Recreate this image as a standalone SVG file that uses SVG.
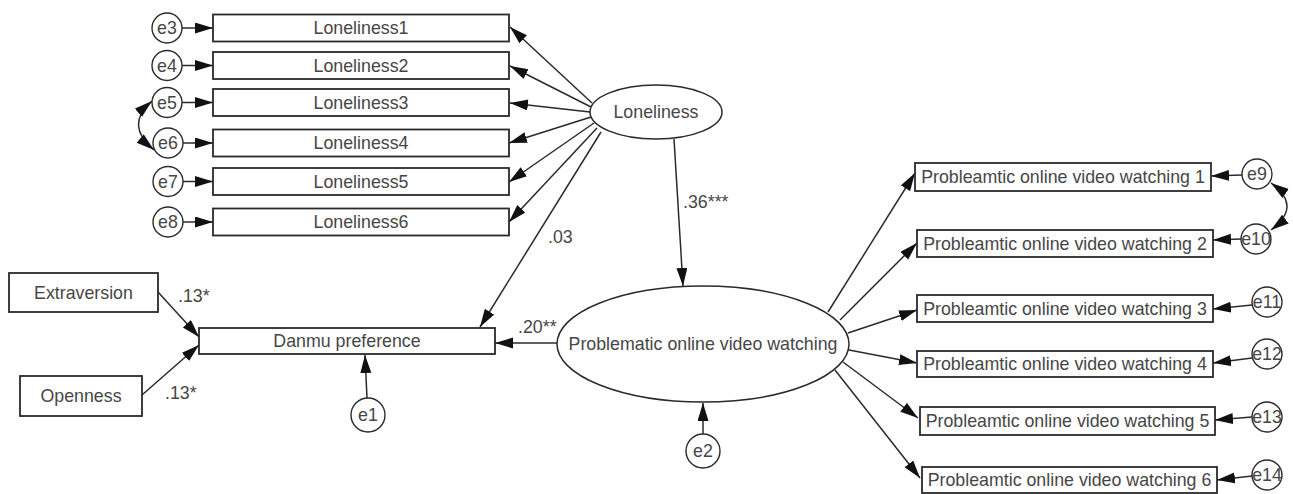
<svg xmlns="http://www.w3.org/2000/svg" width="1293" height="494" viewBox="0 0 1293 494">
<style>
  text { font-family: "Liberation Sans", Arial, sans-serif; font-size: 17.8px; fill: #464646; }
  .c { text-anchor: middle; }
  .box { fill: #ffffff; stroke: #2a2a2a; stroke-width: 1.8; }
  .lat { fill: #ffffff; stroke: #2a2a2a; stroke-width: 1.5; }
  .err { fill: #ffffff; stroke: #2a2a2a; stroke-width: 1.4; }
  .ln { fill: none; stroke: #2a2a2a; stroke-width: 1.5; marker-end: url(#ah); }
  .cov { fill: none; stroke: #2a2a2a; stroke-width: 1.5; marker-start: url(#ah); marker-end: url(#ah); }
</style>
<defs>
  <marker id="ah" markerUnits="userSpaceOnUse" markerWidth="20" markerHeight="12" refX="18" refY="5.5" orient="auto-start-reverse">
    <path d="M0,0 L18,5.5 L0,11 Z" fill="#111"/>
  </marker>
</defs>
<rect width="1293" height="494" fill="#ffffff"/>

<g id="connectors">
  <line class="ln" x1="182" y1="28" x2="213" y2="28"/>
  <line class="ln" x1="182" y1="65.5" x2="213" y2="65.5"/>
  <line class="ln" x1="182" y1="102.5" x2="213" y2="102.5"/>
  <line class="ln" x1="183" y1="143" x2="213" y2="143"/>
  <line class="ln" x1="183" y1="181.5" x2="213" y2="181.5"/>
  <line class="ln" x1="183" y1="222" x2="213" y2="222"/>
  <path class="cov" d="M152,101 Q124,125 154,150"/>
  <line class="ln" x1="592" y1="103" x2="510" y2="27"/>
  <line class="ln" x1="591" y1="107" x2="510" y2="66"/>
  <line class="ln" x1="590" y1="112" x2="510" y2="103"/>
  <line class="ln" x1="591" y1="117" x2="509" y2="143"/>
  <line class="ln" x1="594" y1="123" x2="509" y2="182"/>
  <line class="ln" x1="597" y1="128" x2="509" y2="222"/>
  <line class="ln" x1="601" y1="132" x2="480" y2="327"/>
  <line class="ln" x1="674" y1="139" x2="683" y2="286"/>
  <line class="ln" x1="557" y1="343" x2="495" y2="343"/>
  <line class="ln" x1="158" y1="292" x2="199" y2="337"/>
  <line class="ln" x1="142" y1="395" x2="199" y2="345"/>
  <line class="ln" x1="367" y1="398" x2="365" y2="355"/>
  <line class="ln" x1="703" y1="434" x2="703" y2="403"/>
  <line class="ln" x1="828" y1="312" x2="915" y2="173"/>
  <line class="ln" x1="840" y1="320" x2="917" y2="243"/>
  <line class="ln" x1="848" y1="333" x2="917" y2="310"/>
  <line class="ln" x1="849" y1="350" x2="917" y2="363"/>
  <line class="ln" x1="843" y1="362" x2="918" y2="418"/>
  <line class="ln" x1="835" y1="370" x2="920" y2="478"/>
  <line class="ln" x1="1242" y1="175" x2="1211" y2="176"/>
  <line class="ln" x1="1241" y1="239" x2="1213" y2="240"/>
  <line class="ln" x1="1252" y1="305" x2="1213" y2="309"/>
  <line class="ln" x1="1252" y1="358" x2="1213" y2="363"/>
  <line class="ln" x1="1252" y1="417" x2="1215" y2="420"/>
  <line class="ln" x1="1252" y1="476" x2="1217" y2="480"/>
  <path class="cov" d="M1271,183 Q1303,206 1271,230"/>
</g>

<g id="labels">
  <text x="178" y="302">.13*</text>
  <text x="165" y="399">.13*</text>
  <text x="548" y="243">.03</text>
  <text x="683" y="208">.36***</text>
  <text x="518" y="333">.20**</text>
</g>

<g id="e3"><circle class="err" cx="167" cy="28" r="15"/><text class="c" x="167" y="34">e3</text></g>
<g id="e4"><circle class="err" cx="167" cy="65.5" r="15"/><text class="c" x="167" y="71.5">e4</text></g>
<g id="e5"><circle class="err" cx="167" cy="102.5" r="15"/><text class="c" x="167" y="108.5">e5</text></g>
<g id="e6"><circle class="err" cx="168" cy="143" r="15"/><text class="c" x="168" y="149">e6</text></g>
<g id="e7"><circle class="err" cx="168" cy="181.5" r="15"/><text class="c" x="168" y="187.5">e7</text></g>
<g id="e8"><circle class="err" cx="168" cy="222" r="15"/><text class="c" x="168" y="228">e8</text></g>

<g id="loneliness1"><rect class="box" x="213" y="14.5" width="296" height="27"/><text class="c" x="361" y="34">Loneliness1</text></g>
<g id="loneliness2"><rect class="box" x="213" y="52" width="296" height="27"/><text class="c" x="361" y="71.5">Loneliness2</text></g>
<g id="loneliness3"><rect class="box" x="213" y="89" width="296" height="27"/><text class="c" x="361" y="108.5">Loneliness3</text></g>
<g id="loneliness4"><rect class="box" x="213" y="129.5" width="296" height="27"/><text class="c" x="361" y="149">Loneliness4</text></g>
<g id="loneliness5"><rect class="box" x="213" y="168" width="296" height="27"/><text class="c" x="361" y="187.5">Loneliness5</text></g>
<g id="loneliness6"><rect class="box" x="213" y="208.5" width="296" height="27"/><text class="c" x="361" y="228">Loneliness6</text></g>

<g id="loneliness"><ellipse class="lat" cx="656" cy="112" rx="66" ry="27"/><text class="c" x="656" y="118">Loneliness</text></g>

<g id="extraversion"><rect class="box" x="9" y="273" width="149" height="39"/><text class="c" x="83.5" y="299">Extraversion</text></g>
<g id="openness"><rect class="box" x="20" y="376" width="122" height="40"/><text class="c" x="81" y="402">Openness</text></g>
<g id="danmu"><rect class="box" x="199" y="328" width="296" height="26"/><text class="c" x="347" y="347">Danmu preference</text></g>
<g id="e1"><circle class="err" cx="368" cy="415" r="17"/><text class="c" x="368" y="421">e1</text></g>

<g id="pvw"><ellipse class="lat" cx="703" cy="344" rx="146" ry="58"/><text class="c" x="703" y="350">Problematic online video watching</text></g>
<g id="e2"><circle class="err" cx="703" cy="451" r="17"/><text class="c" x="703" y="457">e2</text></g>

<g id="pw1"><rect class="box" x="915" y="163" width="296" height="28"/><text class="c" x="1063" y="183">Probleamtic online video watching 1</text></g>
<g id="pw2"><rect class="box" x="917" y="230" width="296" height="27"/><text class="c" x="1065" y="249.5">Probleamtic online video watching 2</text></g>
<g id="pw3"><rect class="box" x="917" y="295" width="296" height="27"/><text class="c" x="1065" y="314.5">Probleamtic online video watching 3</text></g>
<g id="pw4"><rect class="box" x="917" y="351" width="296" height="26"/><text class="c" x="1065" y="370">Probleamtic online video watching 4</text></g>
<g id="pw5"><rect class="box" x="920" y="407" width="295" height="28"/><text class="c" x="1067.5" y="427">Probleamtic online video watching 5</text></g>
<g id="pw6"><rect class="box" x="922" y="467" width="295" height="26"/><text class="c" x="1069.5" y="486">Probleamtic online video watching 6</text></g>

<g id="e9"><circle class="err" cx="1257" cy="174" r="15"/><text class="c" x="1257" y="180">e9</text></g>
<g id="e10"><circle class="err" cx="1256" cy="239" r="15"/><text class="c" x="1256" y="245">e10</text></g>
<g id="e11"><circle class="err" cx="1267" cy="302" r="15"/><text class="c" x="1267" y="308">e11</text></g>
<g id="e12"><circle class="err" cx="1267" cy="354" r="15"/><text class="c" x="1267" y="360">e12</text></g>
<g id="e13"><circle class="err" cx="1267" cy="417" r="15"/><text class="c" x="1267" y="423">e13</text></g>
<g id="e14"><circle class="err" cx="1267" cy="475" r="15"/><text class="c" x="1267" y="481">e14</text></g>
</svg>
